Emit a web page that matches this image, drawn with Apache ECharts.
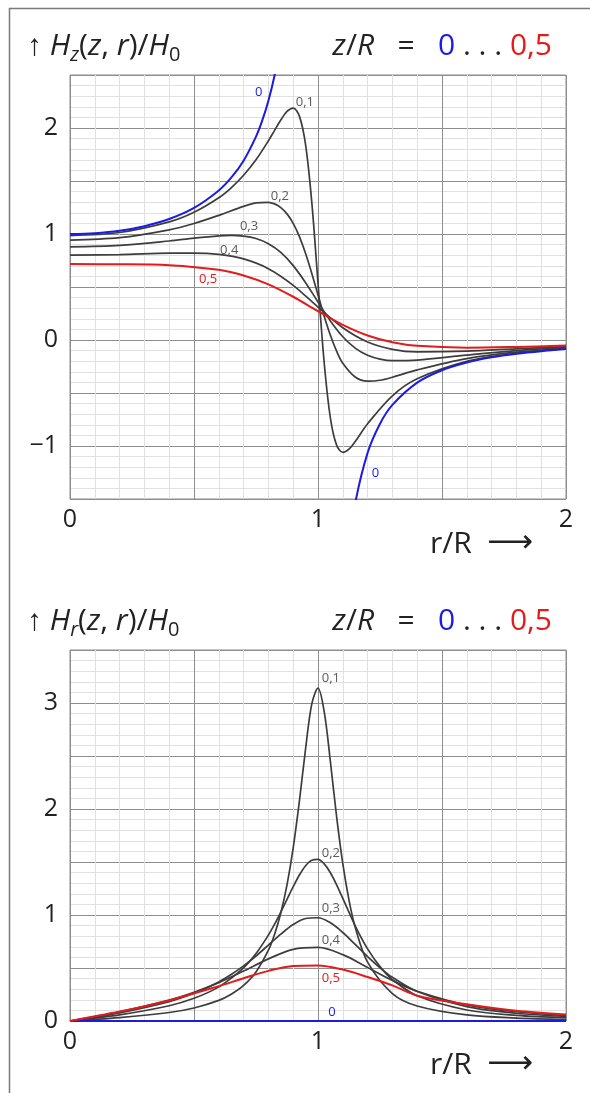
<!DOCTYPE html>
<html>
<head>
<meta charset="utf-8">
<script src="https://cdn.jsdelivr.net/npm/echarts@6/dist/echarts.min.js"></script>
<style>
  html, body { margin: 0; padding: 0; background: #fff; }
  #chart { width: 590px; height: 1093px; }
</style>
</head>
<body>
<div id="chart"></div>
<script>
// Field of a circular current loop, normalised to the centre field H0.
// r/R positions and field values per axial distance z/R.

// z/R = 0 : axial component diverges at the wire, radial component is zero
const rZ0Inner  = [0, 0.1, 0.2, 0.3, 0.4, 0.5, 0.6, 0.65, 0.7, 0.75, 0.775, 0.8, 0.825, 0.85];
const hzZ0Inner = [1.000, 1.008, 1.031, 1.074, 1.141, 1.246, 1.411, 1.531, 1.692, 1.919, 2.069, 2.257, 2.498, 2.817];
const rZ0Outer  = [1.12, 1.15, 1.2, 1.25, 1.3, 1.4, 1.5, 1.6, 1.7, 1.8, 1.9, 2.0];
const hzZ0Outer = [-2.029, -1.540, -1.065, -0.790, -0.612, -0.402, -0.285, -0.212, -0.164, -0.130, -0.105, -0.086];
const rZ0Radial  = [0, 2];
const hrZ0Radial = [0, 0];

// z/R = 0,1
const rZ01  = [0, 0.2, 0.4, 0.5, 0.6, 0.65, 0.7, 0.75, 0.8, 0.825, 0.85, 0.875, 0.9, 0.925, 0.95, 0.975, 1.0,
               1.025, 1.05, 1.075, 1.1, 1.125, 1.15, 1.2, 1.3, 1.4, 1.6, 1.8, 2.0];
const hzZ01 = [0.985, 1.014, 1.114, 1.205, 1.342, 1.436, 1.554, 1.700, 1.879, 1.978, 2.075, 2.156, 2.188, 2.112, 1.841, 1.299, 0.537,
               -0.215, -0.737, -0.992, -1.060, -1.030, -0.958, -0.790, -0.526, -0.366, -0.202, -0.126, -0.085];
const hrZ01 = [0, 0.032, 0.080, 0.123, 0.195, 0.253, 0.336, 0.463, 0.668, 0.819, 1.019, 1.284, 1.634, 2.074, 2.569, 2.991, 3.141,
               2.918, 2.447, 1.929, 1.484, 1.140, 0.884, 0.556, 0.259, 0.142, 0.057, 0.028, 0.016];

// z/R = 0,2
const rZ02  = [0, 0.2, 0.4, 0.5, 0.6, 0.7, 0.75, 0.8, 0.825, 0.85, 0.875, 0.9, 0.925, 0.95, 0.975, 1.0,
               1.025, 1.05, 1.075, 1.1, 1.15, 1.2, 1.25, 1.3, 1.4, 1.6, 1.8, 2.0];
const hzZ02 = [0.943, 0.965, 1.039, 1.099, 1.176, 1.261, 1.293, 1.299, 1.284, 1.249, 1.190, 1.100, 0.975, 0.816, 0.628, 0.425,
               0.225, 0.045, -0.105, -0.219, -0.349, -0.388, -0.380, -0.351, -0.282, -0.176, -0.115, -0.080];
const hrZ02 = [0, 0.058, 0.144, 0.214, 0.322, 0.502, 0.636, 0.811, 0.914, 1.028, 1.148, 1.267, 1.377, 1.465, 1.517, 1.524,
               1.482, 1.399, 1.285, 1.157, 0.898, 0.680, 0.513, 0.391, 0.238, 0.104, 0.053, 0.031];

// z/R = 0,3
const rZ03  = [0, 0.2, 0.4, 0.5, 0.6, 0.65, 0.7, 0.75, 0.8, 0.85, 0.9, 0.95, 1.0, 1.05, 1.1, 1.15, 1.2, 1.25, 1.3, 1.4, 1.6, 1.8, 2.0];
const hzZ03 = [0.879, 0.893, 0.934, 0.961, 0.983, 0.987, 0.980, 0.957, 0.908, 0.826, 0.702, 0.541, 0.358, 0.180, 0.031, -0.076,
               -0.144, -0.180, -0.195, -0.189, -0.142, -0.100, -0.072];
const hrZ03 = [0, 0.077, 0.183, 0.261, 0.369, 0.439, 0.520, 0.613, 0.716, 0.819, 0.910, 0.967, 0.974, 0.926, 0.835, 0.722,
               0.607, 0.502, 0.412, 0.278, 0.136, 0.073, 0.043];

// z/R = 0,4
const rZ04  = [0, 0.2, 0.4, 0.5, 0.6, 0.7, 0.8, 0.9, 1.0, 1.1, 1.2, 1.3, 1.4, 1.6, 1.8, 2.0];
const hzZ04 = [0.800, 0.806, 0.819, 0.820, 0.807, 0.765, 0.673, 0.516, 0.310, 0.115, -0.019, -0.088, -0.112, -0.105, -0.083, -0.063];
const hrZ04 = [0, 0.087, 0.197, 0.271, 0.362, 0.471, 0.586, 0.676, 0.694, 0.626, 0.505, 0.382, 0.281, 0.152, 0.087, 0.053];

// z/R = 0,5
const rZ05  = [0, 0.2, 0.4, 0.6, 0.7, 0.8, 0.9, 1.0, 1.1, 1.2, 1.3, 1.4, 1.6, 1.8, 2.0];
const hzZ05 = [0.716, 0.715, 0.706, 0.662, 0.609, 0.525, 0.408, 0.272, 0.143, 0.043, -0.021, -0.055, -0.072, -0.065, -0.053];
const hrZ05 = [0, 0.089, 0.194, 0.329, 0.404, 0.473, 0.519, 0.524, 0.485, 0.415, 0.336, 0.239, 0.157, 0.096, 0.061];

// labelled tick values
const xTickLabels       = [0, 1, 2];
const yTickLabelsAxial  = [-1, 0, 1, 2];
const yTickLabelsRadial = [0, 1, 2, 3];

const FONT = '"Open Sans", "Noto Sans", sans-serif';
const INK = '#222222';
const BLUE = '#1c1ce0';
const RED = '#e41b1b';
const GRAY = '#3d3d3d';
const TAG_GRAY = '#5a5a5a';
const MAJOR = '#8e8e8e';
const MINOR = '#e0e0e0';

const pairs = (rs, vs) => rs.map((r, i) => [r, vs[i]]);
const fmtTick = list => v => (list.indexOf(v) >= 0 ? String(v).replace('-', '\u2212') : '');

function makeXAxis(gridIndex) {
  return {
    type: 'value', gridIndex, min: 0, max: 2, interval: 0.5,
    axisLine: { show: false }, axisTick: { show: false },
    axisLabel: { formatter: fmtTick(xTickLabels), color: INK, fontSize: 25, fontFamily: FONT, margin: 8 },
    splitLine: { show: true, lineStyle: { color: MAJOR, width: 1 } },
    minorTick: { show: false, splitNumber: 5 },
    minorSplitLine: { show: true, lineStyle: { color: MINOR, width: 1 } }
  };
}
function makeYAxis(gridIndex, min, max, labels) {
  return {
    type: 'value', gridIndex, min, max, interval: 0.5,
    axisLine: { show: false }, axisTick: { show: false },
    axisLabel: { formatter: fmtTick(labels), color: INK, fontSize: 25, fontFamily: FONT, margin: 12 },
    splitLine: { show: true, lineStyle: { color: MAJOR, width: 1 } },
    minorTick: { show: false, splitNumber: 5 },
    minorSplitLine: { show: true, lineStyle: { color: MINOR, width: 1 } }
  };
}

function tag(text, coord, color) {
  return {
    symbol: 'circle', symbolSize: 0, silent: true, animation: false,
    label: { show: true, position: 'inside', formatter: text, color, fontSize: 13, fontFamily: FONT },
    data: [{ coord }]
  };
}

function curve(name, grid, rs, vs, color, width, tagSpec) {
  const s = {
    name, type: 'line', xAxisIndex: grid, yAxisIndex: grid,
    data: pairs(rs, vs), smooth: 0.33, showSymbol: false, symbol: 'none',
    clip: true, silent: true, animation: false,
    lineStyle: { color, width }
  };
  if (tagSpec) s.markPoint = tag(tagSpec[0], tagSpec[1], tagSpec[2]);
  return s;
}

const base = { fontFamily: FONT, fontWeight: 'normal', color: INK };
const rich = {
  n:  Object.assign({}, base, { fontSize: 30, lineHeight: 38, verticalAlign: 'middle' }),
  i:  Object.assign({}, base, { fontSize: 30, fontStyle: 'italic', lineHeight: 38, verticalAlign: 'middle' }),
  si: Object.assign({}, base, { fontSize: 20, fontStyle: 'italic', lineHeight: 19, verticalAlign: 'bottom' }),
  s:  Object.assign({}, base, { fontSize: 20, lineHeight: 19, verticalAlign: 'bottom' }),
  b:  Object.assign({}, base, { fontSize: 30, color: BLUE, lineHeight: 38, verticalAlign: 'middle' }),
  r:  Object.assign({}, base, { fontSize: 30, color: RED, lineHeight: 38, verticalAlign: 'middle' }),
  a:  Object.assign({}, base, { fontSize: 32, lineHeight: 38, verticalAlign: 'middle', fontFamily: '"DejaVu Sans", sans-serif' })
};
const rangeText = '{i|z}{n|/}{i|R}{n|   =   }{b|0}{n| . . . }{r|0,5}';
const axisNameText = '{n|r/R  }{a|\u27F6}';

const option = {
  animation: false,
  backgroundColor: '#ffffff',
  grid: [
    { left: 70, top: 75, width: 496, height: 424, show: true, borderColor: MAJOR, borderWidth: 1, containLabel: false },
    { left: 70, top: 650, width: 496, height: 371, show: true, borderColor: MAJOR, borderWidth: 1, containLabel: false }
  ],
  xAxis: [makeXAxis(0), makeXAxis(1)],
  yAxis: [makeYAxis(0, -1.5, 2.5, yTickLabelsAxial), makeYAxis(1, 0, 3.5, yTickLabelsRadial)],
  title: [
    { text: '{n|\u2191 }{i|H}{si|z}{n|(}{i|z}{n|, }{i|r}{n|)/}{i|H}{s|0}', left: 27, top: 27, padding: 0, textStyle: { rich } },
    { text: rangeText, right: 38, top: 27, padding: 0, textStyle: { rich } },
    { text: '{n|\u2191 }{i|H}{si|r}{n|(}{i|z}{n|, }{i|r}{n|)/}{i|H}{s|0}', left: 27, top: 602, padding: 0, textStyle: { rich } },
    { text: rangeText, right: 38, top: 602, padding: 0, textStyle: { rich } },
    { text: axisNameText, left: 430, top: 525, padding: 0, textStyle: { rich } },
    { text: axisNameText, left: 430, top: 1046, padding: 0, textStyle: { rich } }
  ],
  graphic: [
    { type: 'polyline', silent: true, shape: { points: [[9.5, 1093], [9.5, 8.5], [590, 8.5]] },
      style: { stroke: '#7a7a7a', lineWidth: 1.5, fill: null } }
  ],
  series: [
    // axial component
    curve('Hz 0,1', 0, rZ01, hzZ01, GRAY, 1.7, ['0,1', [0.947, 2.247], TAG_GRAY]),
    curve('Hz 0,2', 0, rZ02, hzZ02, GRAY, 1.7, ['0,2', [0.846, 1.351], TAG_GRAY]),
    curve('Hz 0,3', 0, rZ03, hzZ03, GRAY, 1.7, ['0,3', [0.722, 1.068], TAG_GRAY]),
    curve('Hz 0,4', 0, rZ04, hzZ04, GRAY, 1.7, ['0,4', [0.642, 0.849], TAG_GRAY]),
    curve('Hz 0 inner', 0, rZ0Inner, hzZ0Inner, BLUE, 2, ['0', [0.761, 2.337], BLUE]),
    curve('Hz 0 outer', 0, rZ0Outer, hzZ0Outer, BLUE, 2, ['0', [1.232, -1.261], BLUE]),
    curve('Hz 0,5', 0, rZ05, hzZ05, RED, 2, ['0,5', [0.557, 0.573], RED]),
    // radial component
    curve('Hr 0,1', 1, rZ01, hrZ01, GRAY, 1.7, ['0,1', [1.052, 3.233], TAG_GRAY]),
    curve('Hr 0,2', 1, rZ02, hrZ02, GRAY, 1.7, ['0,2', [1.052, 1.582], TAG_GRAY]),
    curve('Hr 0,3', 1, rZ03, hrZ03, GRAY, 1.7, ['0,3', [1.052, 1.063], TAG_GRAY]),
    curve('Hr 0,4', 1, rZ04, hrZ04, GRAY, 1.7, ['0,4', [1.052, 0.758], TAG_GRAY]),
    curve('Hr 0', 1, rZ0Radial, hrZ0Radial, BLUE, 2, ['0', [1.056, 0.078], BLUE]),
    curve('Hr 0,5', 1, rZ05, hrZ05, RED, 2, ['0,5', [1.052, 0.403], RED])
  ]
};

const chart = echarts.init(document.getElementById('chart'), null, { renderer: 'canvas' });
chart.setOption(option);
</script>
</body>
</html>
